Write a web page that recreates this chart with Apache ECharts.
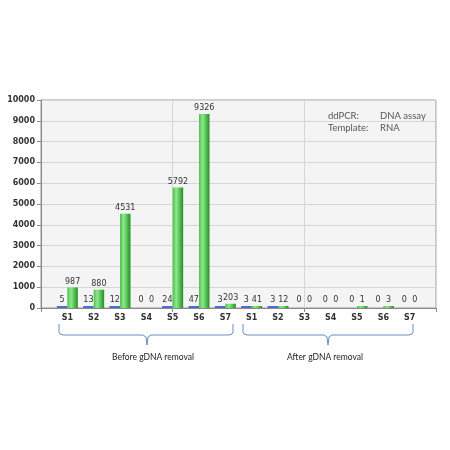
<!DOCTYPE html>
<html>
<head>
<meta charset="utf-8">
<script src="https://cdn.jsdelivr.net/npm/echarts@6/dist/echarts.min.js"></script>
<style>
html,body{margin:0;padding:0;background:#fff;}
#c{width:450px;height:450px;}
</style>
</head>
<body>
<div id="c"></div>
<script>
var categories = ['S1','S2','S3','S4','S5','S6','S7','S1','S2','S3','S4','S5','S6','S7'];
var blueValues = [5, 13, 12, 0, 24, 47, 3, 3, 3, 0, 0, 0, 0, 0];
var greenValues = [987, 880, 4531, 0, 5792, 9326, 203, 41, 12, 0, 0, 1, 3, 0];
var yTicks = [0, 1000, 2000, 3000, 4000, 5000, 6000, 7000, 8000, 9000, 10000];
var groupLabels = ['Before gDNA removal', 'After gDNA removal'];

// pad with an empty slot on each side so the categories sit on ticks 1..14 of 15
var axisCats = [''].concat(categories, ['']);
function pad(arr) {
  var out = [null];
  arr.forEach(function (v) {
    out.push(v === 0 ? { value: v, itemStyle: { color: 'rgba(0,0,0,0)' } } : v);
  });
  out.push(null);
  return out;
}

var chart = echarts.init(document.getElementById('c'), null, { renderer: 'canvas' });
var labelStyle = { show: true, position: 'top', distance: 2, fontSize: 8, color: '#333', fontFamily: 'DejaVu Sans' };

var greenGrad = {
  type: 'linear', x: 0, y: 0, x2: 1, y2: 0,
  colorStops: [
    { offset: 0, color: '#4cc24c' },
    { offset: 0.35, color: '#8ee88e' },
    { offset: 0.7, color: '#4cbf4c' },
    { offset: 1, color: '#2b8a2b' }
  ]
};

var bracketColor = '#6a8cc4';
function bracket(x1, x2, xm) {
  var y0 = 324, y1 = 335, y2 = 345;
  return [[x1, y0], [x1, y1 - 3], [x1 + 1, y1 - 1], [x1 + 4, y1], [xm - 4, y1], [xm - 1, y1 + 2], [xm, y2],
          [xm + 1, y1 + 2], [xm + 4, y1], [x2 - 4, y1], [x2 - 1, y1 - 1], [x2, y1 - 3], [x2, y0]];
}

var noteFont = { fontSize: 9.5, fill: '#555', fontFamily: 'Lato' };
function note(x, y, t) {
  return { type: 'text', x: x, y: y, style: Object.assign({ text: t }, noteFont) };
}

chart.setOption({
  animation: false,
  backgroundColor: '#ffffff',
  grid: { left: 41, right: 14, top: 100, bottom: 142, show: true, backgroundColor: '#f4f4f4', borderColor: '#9a9a9a', borderWidth: 1 },
  xAxis: [{
    type: 'category',
    data: axisCats,
    boundaryGap: false,
    axisLine: { show: true, lineStyle: { color: '#8a8a8a' } },
    axisTick: { show: false },
    splitLine: { show: false },
    axisLabel: { interval: 0, fontSize: 8, fontWeight: 'bold', color: '#333', margin: 6, fontFamily: 'DejaVu Sans' }
  }, {
    type: 'value',
    min: 0, max: 15, interval: 5,
    position: 'bottom',
    axisLine: { show: false },
    axisTick: { show: true, length: 4, lineStyle: { color: '#8a8a8a' } },
    axisLabel: { show: false },
    splitLine: { show: true, lineStyle: { color: '#d6d6d6' } }
  }],
  yAxis: {
    type: 'value',
    min: yTicks[0], max: yTicks[yTicks.length - 1], interval: yTicks[1] - yTicks[0],
    axisLine: { show: true, lineStyle: { color: '#8a8a8a' } },
    axisTick: { show: true, length: 4, lineStyle: { color: '#8a8a8a' } },
    splitLine: { show: true, lineStyle: { color: '#d6d6d6' } },
    axisLabel: { fontSize: 8, fontWeight: 'bold', color: '#333', margin: 6, fontFamily: 'DejaVu Sans',
      formatter: function (v) { return String(v); } }
  },
  series: [{
    type: 'bar',
    xAxisIndex: 0,
    data: pad(blueValues),
    barWidth: 10.5,
    barGap: '0%',
    barMinHeight: 2,
    itemStyle: { color: '#4a6fd0' },
    label: labelStyle
  }, {
    type: 'bar',
    xAxisIndex: 0,
    data: pad(greenValues),
    barWidth: 10.5,
    barMinHeight: 2,
    itemStyle: { color: greenGrad },
    label: labelStyle
  }],
  graphic: [
    note(328, 111, 'ddPCR:'),
    note(380, 111, 'DNA assay'),
    note(328, 123, 'Template:'),
    note(380, 123, 'RNA'),
    { type: 'polyline', shape: { points: bracket(59, 233, 147) }, style: { stroke: bracketColor, fill: null, lineWidth: 1 } },
    { type: 'polyline', shape: { points: bracket(243, 413, 328) }, style: { stroke: bracketColor, fill: null, lineWidth: 1 } },
    { type: 'text', x: 153, y: 357, style: { text: groupLabels[0], fontSize: 8.5, fill: '#222', fontFamily: 'Lato', align: 'center', verticalAlign: 'middle' } },
    { type: 'text', x: 325, y: 357, style: { text: groupLabels[1], fontSize: 8.5, fill: '#222', fontFamily: 'Lato', align: 'center', verticalAlign: 'middle' } }
  ]
});
</script>
</body>
</html>
